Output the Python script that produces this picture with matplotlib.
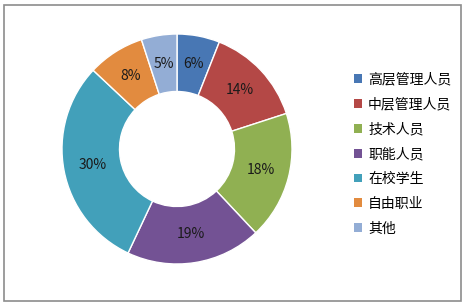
import matplotlib
matplotlib.use("Agg")
import matplotlib.pyplot as plt
from matplotlib.patches import Rectangle, Patch
import numpy as np

plt.rcParams['font.family'] = ['Noto Sans CJK SC', 'DejaVu Sans']

categories = ["高层管理人员", "中层管理人员", "技术人员", "职能人员", "在校学生", "自由职业", "其他"]
values = [6, 14, 18, 19, 30, 8, 5]
colors = ["#4877B4", "#B44846", "#90B052", "#735294", "#42A0BA", "#E28B3F", "#93ADD5"]

W, H = 465, 305
fig = plt.figure(figsize=(W / 100, H / 100), dpi=100)
fig.patch.set_facecolor("white")

# outer frame
fig.patches.append(Rectangle((4 / W, 4 / H), 457 / W, 296 / H, transform=fig.transFigure,
                             fill=False, edgecolor="#8c8c8c", linewidth=1.2))

cx, cy, r = 177, 149, 115
ax = fig.add_axes([(cx - r) / W, (H - cy - r) / H, 2 * r / W, 2 * r / H])
wedges, texts = ax.pie(values, colors=colors, startangle=90, counterclock=False,
                       radius=1.0, wedgeprops=dict(width=0.5, edgecolor="white", linewidth=1.0))
total = sum(values)
ang = 90.0
for v in values:
    mid = ang - v / total * 360 / 2
    ang -= v / total * 360
    rr = 0.75
    ax.text(rr * np.cos(np.radians(mid)), rr * np.sin(np.radians(mid)), f"{v}%",
            ha="center", va="center", fontsize=10, color="#1a1a1a")
ax.set_xlim(-1, 1)
ax.set_ylim(-1, 1)
ax.set_aspect("equal")
ax.axis("off")

handles = [Patch(facecolor=c, edgecolor="none") for c in colors]
fig.legend(handles, categories, loc="upper left", bbox_to_anchor=(348 / W, 1 - 67 / H),
           frameon=False, fontsize=10, handlelength=0.6, handleheight=0.6,
           labelspacing=0.78, handletextpad=0.45, borderaxespad=0)

fig.savefig("out.png", dpi=100)
